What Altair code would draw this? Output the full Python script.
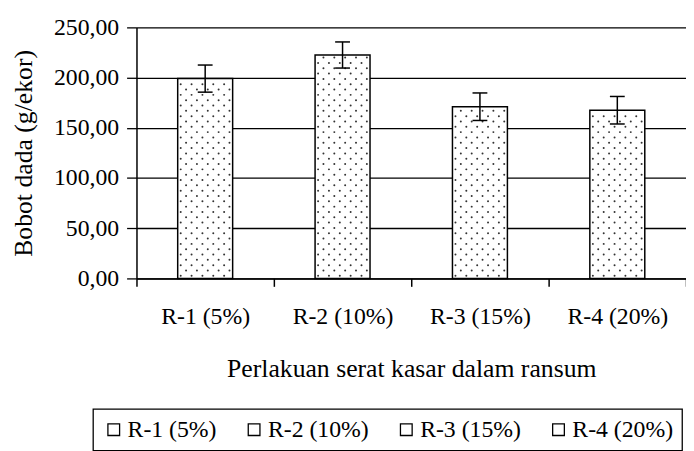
import altair as alt
import pandas as pd

labels = ["R-1 (5%)", "R-2 (10%)", "R-3 (15%)", "R-4 (20%)"]
values = [199.0, 222.5, 171.0, 167.5]
errors = [13.5, 13.0, 13.7, 13.7]
y_ticks = [0, 50, 100, 150, 200, 250]
x_title = "Perlakuan serat kasar dalam ransum"
y_title = "Bobot dada (g/ekor)"

df = pd.DataFrame({"label": labels, "value": values, "err": errors,
                   "idx": list(range(len(labels)))})

FONT = "Times New Roman, Liberation Serif, serif"
FS = 24

label_js = "[" + ",".join("'" + l + "'" for l in labels) + "]"

xscale = alt.Scale(domain=[0, 4], nice=False, zero=False)
yscale = alt.Scale(domain=[0, 250], nice=False)

xaxis = alt.Axis(
    title=x_title, values=[0, 1, 2, 3, 4], grid=False,
    labelExpr=f"datum.value < 4 ? {label_js}[datum.value] : ''",
    labelOffset=69.5, labelFlush=False, labelBound=False, labelOverlap=False,
    tickSize=8, tickColor="black", tickWidth=1.5,
    domainColor="black", domainWidth=1.5,
    labelFont=FONT, labelFontSize=FS, labelColor="black", labelPadding=19,
    titleFont=FONT, titleFontSize=26, titleFontWeight="normal", titleColor="black",
    titlePadding=27,
)
yaxis = alt.Axis(
    title=y_title, values=y_ticks,
    labelExpr="replace(format(datum.value, '.2f'), '.', ',')",
    grid=True, gridColor="black", gridWidth=1.3, gridOpacity=1,
    tickSize=10, tickColor="black", tickWidth=1.3,
    domainColor="black", domainWidth=1.5,
    labelFont=FONT, labelFontSize=FS, labelColor="black", labelPadding=8,
    titleFont=FONT, titleFontSize=26, titleFontWeight="normal", titleColor="black",
    titlePadding=17,
)

base = alt.Chart(df)

bars = base.transform_calculate(
    x0="datum.idx + 0.3", x1="datum.idx + 0.7"
).mark_bar(stroke="black", strokeWidth=1.5, opacity=1, fillOpacity=1).encode(
    x=alt.X("x0:Q", scale=xscale, axis=xaxis),
    x2="x1:Q",
    y=alt.Y("value:Q", scale=yscale, axis=yaxis, stack=None),
    y2=alt.datum(0),
    color=alt.Color(
        "label:N",
        scale=alt.Scale(domain=labels, range=["white"] * 4),
        legend=alt.Legend(
            title=None, orient="none", legendX=-44, legendY=386,
            direction="horizontal", symbolType="square", symbolSize=140,
            symbolStrokeColor="black", symbolStrokeWidth=1.3,
            labelFont=FONT, labelFontSize=24, labelColor="black",
            labelOffset=2, columnPadding=26, padding=9,
            strokeColor="black", fillColor="white",
        ),
    ),
)

dots = base.transform_calculate(
    ys="sequence(2.6, datum.value - 1.5, 5.3)"
).transform_flatten(["ys"]).transform_calculate(
    row="round((datum.ys - 2.6) / 5.3)", ks="sequence(0, 5)"
).transform_flatten(["ks"]).transform_calculate(
    xd="datum.idx + 0.3 + (datum.row % 2 == 0 ? 0.022 : 0.061) + datum.ks * 0.079"
).mark_circle(size=4, color="#333333", opacity=1).encode(
    x=alt.X("xd:Q", scale=xscale, axis=xaxis),
    y=alt.Y("ys:Q", scale=yscale, axis=yaxis),
)

err_base = base.transform_calculate(
    c="datum.idx + 0.5",
    cl="datum.idx + 0.5 - 0.054",
    cr="datum.idx + 0.5 + 0.054",
    lo="datum.value - datum.err",
    hi="datum.value + datum.err",
)
err_v = err_base.mark_rule(color="black", strokeWidth=1.5).encode(
    x=alt.X("c:Q", scale=xscale, axis=xaxis),
    y=alt.Y("lo:Q", scale=yscale, axis=yaxis),
    y2="hi:Q",
)
cap_hi = err_base.mark_rule(color="black", strokeWidth=1.5).encode(
    x=alt.X("cl:Q", scale=xscale, axis=xaxis), x2="cr:Q",
    y=alt.Y("hi:Q", scale=yscale, axis=yaxis),
)
cap_lo = err_base.mark_rule(color="black", strokeWidth=1.5).encode(
    x=alt.X("cl:Q", scale=xscale, axis=xaxis), x2="cr:Q",
    y=alt.Y("lo:Q", scale=yscale, axis=yaxis),
)

chart = alt.layer(bars, dots, err_v, cap_hi, cap_lo).properties(
    width=556, height=254,
    autosize=alt.AutoSizeParams(type="none"),
    padding={"left": 130, "top": 17, "right": 0, "bottom": 172},
    background="white",
).configure_view(stroke=None).configure_legend(strokeWidth=1.3)

chart.save("out.html", embed_options={"renderer": "svg", "actions": False})
